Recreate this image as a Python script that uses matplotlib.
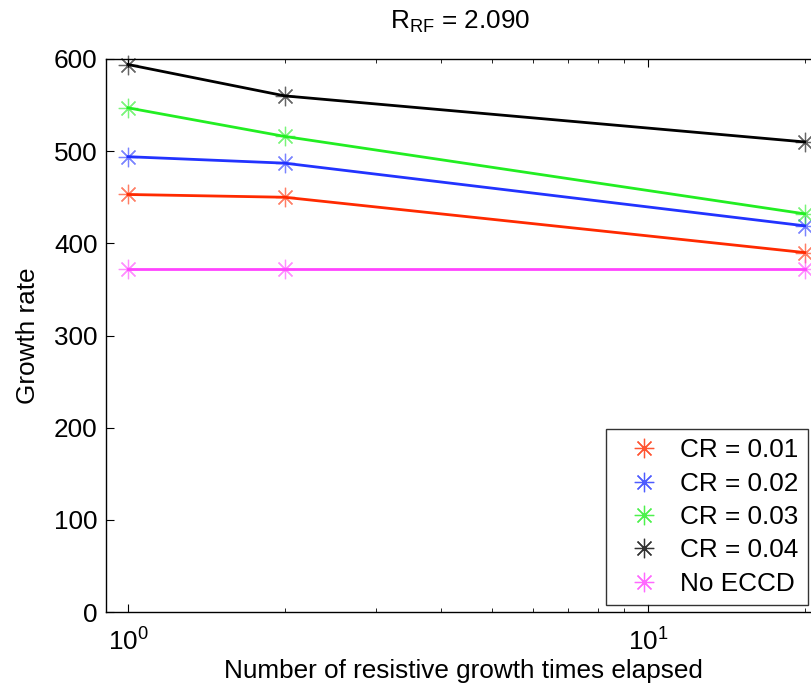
import matplotlib
matplotlib.use("Agg")
import matplotlib.pyplot as plt
from matplotlib.ticker import LogLocator, NullFormatter

plt.rcParams['font.family'] = ['Liberation Sans', 'DejaVu Sans']
plt.rcParams['mathtext.fontset'] = 'custom'
plt.rcParams['mathtext.rm'] = 'Liberation Sans'

# data
times = [1, 2, 20]
cr01 = [453, 450, 390]
cr02 = [494, 487, 419]
cr03 = [547, 516, 432]
cr04 = [594, 560, 510]
no_eccd = [372, 372, 372]

series = [
    ("CR = 0.01", cr01, "#ff2a00"),
    ("CR = 0.02", cr02, "#2233ff"),
    ("CR = 0.03", cr03, "#22ee22"),
    ("CR = 0.04", cr04, "#000000"),
    ("No ECCD", no_eccd, "#ff44ff"),
]
FS = 18.8
star = (8, 2, 0)  # matlab style asterisk

fig = plt.figure(figsize=(8.11, 6.84), dpi=100)
ax = fig.add_axes([106/811, 1-612/684, 715/811, 553/684])

for lab, vals, col in series:
    ax.plot(times, vals, '-', color=col, lw=2.0, zorder=2)
for lab, vals, col in series:
    ax.plot(times, vals, ls='none', marker=star, color=col, ms=14, mew=0.9,
            alpha=0.6, label=lab, zorder=3, clip_on=False)

ax.set_xscale('log')
ax.set_xlim(0.907, 21.5)
ax.set_ylim(0, 600)
ax.set_yticks([0, 100, 200, 300, 400, 500, 600])
ax.xaxis.set_minor_locator(LogLocator(base=10, subs=range(2, 10)))
ax.xaxis.set_minor_formatter(NullFormatter())
ax.tick_params(which='both', direction='in', top=True, right=True,
               labelsize=FS)
ax.tick_params(which='major', length=6)
ax.tick_params(which='minor', length=3)
ax.tick_params(axis='x', pad=12)
ax.tick_params(axis='y', pad=6)
for s in ax.spines.values():
    s.set_linewidth(1.0)

ax.set_xlabel("Number of resistive growth times elapsed", fontsize=FS, labelpad=2)
ax.set_ylabel("Growth rate", fontsize=FS, labelpad=10)
ax.set_title(r"$\mathregular{R_{RF}}$ = 2.090", fontsize=FS, pad=22,
             x=(460-106)/715)

leg = ax.legend(loc='lower right', bbox_to_anchor=((808-106)/715, (612-605)/553),
                fontsize=FS, frameon=True, fancybox=False, edgecolor='black',
                borderpad=0.35, labelspacing=0.36, handlelength=2.2,
                handletextpad=0.3, borderaxespad=0)
leg.get_frame().set_linewidth(1.0)
for h in leg.legend_handles:
    h.set_alpha(0.8)

fig.savefig("out.png", dpi=100, facecolor='white')
